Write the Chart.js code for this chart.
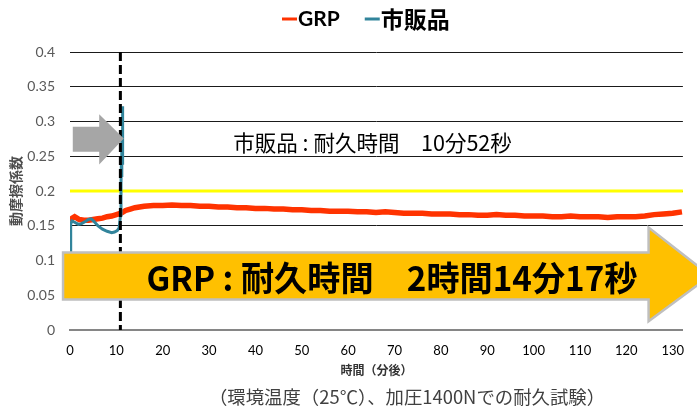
<!DOCTYPE html>
<html lang="ja">
<head>
<meta charset="utf-8">
<title>動摩擦係数</title>
<script src="https://cdn.jsdelivr.net/npm/chart.js@4.4.0/dist/chart.umd.min.js"></script>
<style>
  html, body { margin: 0; padding: 0; background: #fff; }
  #wrap { width: 697px; height: 411px; }
</style>
</head>
<body>
<div id="wrap"><canvas id="frictionChart" width="697" height="411"></canvas></div>
<script>
// GRP : time (min) / coefficient
const grpTime = [0, 0.5, 1, 1.5, 2, 3, 4, 5, 6, 7, 8, 9, 10, 11, 12, 13, 14, 16, 18, 20, 22, 24, 26, 28, 30,
  32, 34, 36, 38, 40, 42, 44, 46, 48, 50, 52, 54, 56, 58, 60, 62, 64, 66, 68, 70, 72, 74, 76, 78, 80,
  82, 84, 86, 88, 90, 92, 94, 96, 98, 100, 102, 104, 106, 108, 110, 112, 114, 116, 118, 120, 122, 124,
  126, 128, 130, 132];
const grpValue = [0.157, 0.161, 0.163, 0.161, 0.159, 0.158, 0.158, 0.159, 0.160, 0.161, 0.163, 0.164, 0.166,
  0.168, 0.172, 0.174, 0.176, 0.178, 0.179, 0.179, 0.180, 0.179, 0.179, 0.178, 0.178,
  0.177, 0.177, 0.176, 0.176, 0.175, 0.175, 0.174, 0.174, 0.173, 0.173, 0.172, 0.172, 0.171, 0.171, 0.171,
  0.170, 0.170, 0.169, 0.170, 0.169, 0.168, 0.168, 0.168, 0.167, 0.167,
  0.167, 0.166, 0.166, 0.165, 0.165, 0.166, 0.165, 0.165, 0.164, 0.164, 0.164, 0.163, 0.163, 0.164,
  0.163, 0.163, 0.163, 0.162, 0.163, 0.163, 0.163, 0.164, 0.166, 0.167, 0.168, 0.170];

// 市販品
const shihanTime = [0, 0.15, 0.4, 1, 1.8, 2.5, 3.3, 4, 4.6, 5.2, 6, 7, 8, 9, 9.6, 10.2, 10.6, 10.9,
  11.0, 11.1, 11.15, 11.2, 11.25, 11.3, 11.35, 11.4];
const shihanValue = [0.108, 0.152, 0.157, 0.155, 0.152, 0.153, 0.156, 0.159, 0.160, 0.156, 0.150, 0.145,
  0.142, 0.140, 0.141, 0.143, 0.147, 0.165, 0.21, 0.25, 0.22, 0.28, 0.24, 0.31, 0.322, 0.29];

const limitValue = 0.2;
const shihanEnd = 10 + 52 / 60;   // 10分52秒
const xMax = 132.2;
const seriesNames = ['GRP', '市販品'];
const seriesColors = ['#ff3300', '#31849b'];

const toPoints = (xs, ys) => xs.map((t, i) => ({ x: t, y: ys[i] }));

// arrow outlines (data coords)
const grayArrow = [[0.6, 0.2565], [6.3, 0.2565], [6.3, 0.238], [11.6, 0.2755], [6.3, 0.3105], [6.3, 0.2925], [0.6, 0.2925]];
const bigArrow = [[-1.5, 0.044], [124.8, 0.044], [124.8, 0.0125], [138.1, 0.078], [124.8, 0.1475], [124.8, 0.1115], [-1.5, 0.1115]];

const jp = "'Noto Sans CJK JP', sans-serif";
const num = "Lato, 'Noto Sans CJK JP', sans-serif";

function drawShape(ctx, pts, x, y, fill, stroke, lw) {
  ctx.beginPath();
  pts.forEach((p, i) => {
    const px = x.getPixelForValue(p[0]), py = y.getPixelForValue(p[1]);
    if (i === 0) ctx.moveTo(px, py); else ctx.lineTo(px, py);
  });
  ctx.closePath();
  ctx.fillStyle = fill;
  ctx.fill();
  if (stroke) { ctx.strokeStyle = stroke; ctx.lineWidth = lw; ctx.stroke(); }
}

// text squeezed/stretched to span [x0, x1]
function fitText(ctx, text, x0, x1, yc) {
  const w = ctx.measureText(text).width;
  ctx.save();
  ctx.translate(x0, yc);
  ctx.scale((x1 - x0) / w, 1);
  ctx.textAlign = 'left';
  ctx.fillText(text, 0, 0);
  ctx.restore();
}

const overlay = {
  id: 'overlay',
  afterDatasetsDraw(chart) {
    const { ctx, chartArea, scales: { x, y } } = chart;
    ctx.save();
    // end of 市販品
    const dx = x.getPixelForValue(shihanEnd);
    ctx.strokeStyle = '#000';
    ctx.lineWidth = 3;
    ctx.setLineDash([9, 4]);
    ctx.beginPath();
    ctx.moveTo(dx, chartArea.top);
    ctx.lineTo(dx, chartArea.bottom);
    ctx.stroke();
    ctx.setLineDash([]);

    drawShape(ctx, grayArrow, x, y, '#a6a6a6', null, 0);
    drawShape(ctx, bigArrow, x, y, '#ffc000', '#bfbfbf', 2.5);

    ctx.fillStyle = '#000';
    ctx.textBaseline = 'middle';
    ctx.font = '22px ' + jp;
    fitText(ctx, '市販品 : 耐久時間　10分52秒', x.getPixelForValue(35.2), x.getPixelForValue(95.3), y.getPixelForValue(0.27));
    ctx.font = 'bold 34px ' + jp;
    fitText(ctx, 'GRP : 耐久時間　2時間14分17秒', x.getPixelForValue(16.5), x.getPixelForValue(122.4), y.getPixelForValue(0.074));
    ctx.restore();
  },
  afterDraw(chart) {
    const { ctx } = chart;
    ctx.save();
    // legend
    ctx.textBaseline = 'middle';
    ctx.textAlign = 'left';
    const legendFonts = ['bold 21px ' + num, 'bold 23px ' + jp];
    let lx = 282;
    seriesNames.forEach((name, i) => {
      ctx.strokeStyle = seriesColors[i];
      ctx.lineWidth = 3;
      ctx.beginPath();
      ctx.moveTo(lx, 19);
      ctx.lineTo(lx + 15, 19);
      ctx.stroke();
      ctx.fillStyle = '#000';
      ctx.font = legendFonts[i];
      ctx.fillText(name, lx + 16, 19);
      lx += 16 + ctx.measureText(name).width + 25;
    });
    // footer note
    ctx.font = '18px ' + jp;
    ctx.fillStyle = '#404040';
    fitText(ctx, '（環境温度（25℃）、加圧1400Nでの耐久試験）', 209, 605, 397);
    ctx.restore();
  }
};

new Chart(document.getElementById('frictionChart'), {
  type: 'line',
  data: {
    datasets: [{
      label: seriesNames[1],
      data: toPoints(shihanTime, shihanValue),
      borderColor: seriesColors[1],
      borderWidth: 3,
      pointRadius: 0,
      order: 0
    }, {
      label: seriesNames[0],
      data: toPoints(grpTime, grpValue),
      borderColor: seriesColors[0],
      borderWidth: 5.5,
      pointRadius: 0,
      order: 1
    }, {
      label: 'limit',
      data: [{ x: 0, y: limitValue }, { x: xMax, y: limitValue }],
      borderColor: '#ffff00',
      borderWidth: 3,
      pointRadius: 0,
      order: 2
    }]
  },
  options: {
    responsive: false,
    animation: false,
    layout: { padding: { top: 52, left: 0, right: 0, bottom: 33 } },
    plugins: {
      legend: { display: false },
      tooltip: { enabled: false }
    },
    scales: {
      x: {
        type: 'linear',
        min: 0,
        max: xMax,
        afterFit: (s) => { s.height = 48; },
        grid: { display: false, drawTicks: false },
        border: { color: '#868686', width: 2 },
        ticks: {
          stepSize: 10,
          includeBounds: false,
          padding: 13,
          color: '#000',
          font: { family: num, size: 13 }
        },
        title: {
          display: true,
          text: '時間（分後）',
          color: '#333',
          padding: 0,
          font: { family: jp, size: 12, weight: 'bold' }
        }
      },
      y: {
        min: 0,
        max: 0.4,
        afterFit: (s) => { s.width = 70; },
        grid: {
          drawTicks: false,
          color: (c) => c.tick && c.tick.value === 0 ? 'rgba(0,0,0,0)' : '#1a1a1a'
        },
        border: { display: false },
        ticks: {
          stepSize: 0.05,
          padding: 15,
          color: '#595959',
          font: { family: num, size: 14 },
          callback: (v) => String(Number(v.toFixed(2)))
        },
        title: {
          display: true,
          text: '動摩擦係数',
          color: '#4d4d4d',
          padding: { top: 7, bottom: 0 },
          font: { family: jp, size: 14, weight: 'bold' }
        }
      }
    }
  },
  plugins: [overlay]
});
</script>
</body>
</html>
